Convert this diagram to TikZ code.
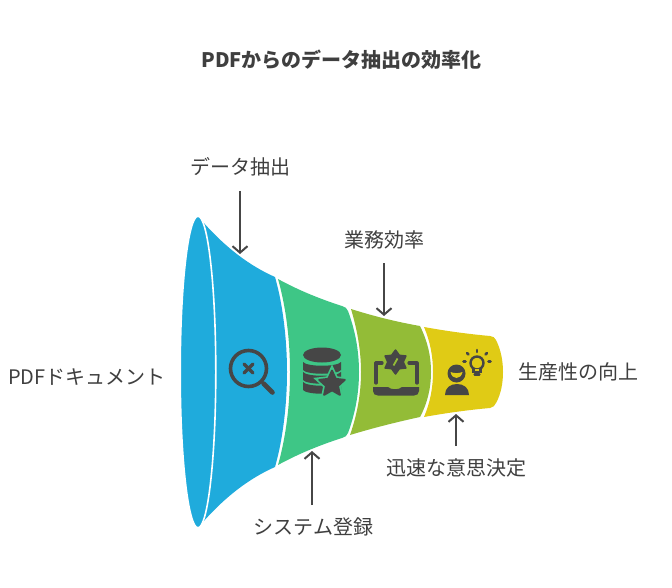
\documentclass[tikz,border=0pt]{standalone}
\usepackage{fontspec}
\setmainfont{Noto Sans CJK JP}
\usetikzlibrary{arrows.meta,shapes.geometric}
\definecolor{funnelblue}{HTML}{1FABDC}
\definecolor{funnelgreen}{HTML}{3EC686}
\definecolor{funnelolive}{HTML}{93BC37}
\definecolor{funnelyellow}{HTML}{E0CB15}
\definecolor{icongrey}{HTML}{464646}
\definecolor{labelgrey}{HTML}{3F3F3F}
\tikzset{
  label text/.style={text=labelgrey, font=\fontsize{20}{24}\selectfont, inner sep=0pt},
  pointer/.style={draw=icongrey, line width=2pt, -{Straight Barb[length=6.5pt,width=15pt,line width=2pt]}},
  icon line/.style={draw=icongrey, line width=3.6pt, line cap=round},
  icon fill/.style={fill=icongrey, draw=none},
}
\begin{document}
\begin{tikzpicture}[x=1pt,y=-1pt]
  \useasboundingbox (0,0) rectangle (672,588);

  % funnel
  \fill[funnelblue] (203,222) .. controls (226,248) and (250,266) .. (275,277)
    .. controls (283,305) and (287,340) .. (287,372) .. controls (287,404) and (283,439) .. (275,467)
    .. controls (250,478) and (226,496) .. (203,522) .. controls (212,470) and (212,420) .. (212,372)
    .. controls (212,324) and (212,274) .. (203,222) -- cycle;
  \fill[funnelgreen] (278,279) .. controls (298,290) and (320,299) .. (342,306)
    .. controls (345,307) and (347,308) .. (348,311)
    .. controls (355,330) and (359,350) .. (359,372) .. controls (359,394) and (355,414) .. (348,433)
    .. controls (347,436) and (345,437) .. (342,438)
    .. controls (320,445) and (298,454) .. (278,465) .. controls (286,437) and (290,404) .. (290,372)
    .. controls (290,340) and (286,307) .. (278,279) -- cycle;
  \fill[funnelolive] (351,309) .. controls (373,316) and (397,322) .. (420,326)
    .. controls (427,340) and (431,355) .. (431,372) .. controls (431,389) and (427,404) .. (420,417)
    .. controls (397,422) and (373,428) .. (350,435) .. controls (357,415) and (361,394) .. (361,372)
    .. controls (361,350) and (357,329) .. (351,309) -- cycle;
  \fill[funnelyellow] (424,327) .. controls (446,331) and (468,334) .. (490,336)
    .. controls (493,336) and (495,338) .. (496,340)
    .. controls (501,350) and (503,361) .. (503,372) .. controls (503,383) and (501,394) .. (496,403)
    .. controls (495,406) and (493,407) .. (490,408)
    .. controls (468,410) and (446,413) .. (424,417) .. controls (430,403) and (433,388) .. (433,372)
    .. controls (433,356) and (430,341) .. (424,327) -- cycle;
  \draw[white, fill=funnelblue, line width=1.6pt] (198,372) ellipse [x radius=17.8pt, y radius=155.8pt];

  % magnifier
  \draw[icon line] (248.5,368.5) circle (18pt);
  \draw[icon line, line width=4.6pt] (263.5,383.5) -- (272.5,392.5);
  \draw[icon line, line width=3.4pt] (244,364) -- (253,373);
  \draw[icon line, line width=3.4pt] (253,364) -- (244,373);

  % database with star
  \fill[icon fill] (322,355) ellipse [x radius=19pt, y radius=7.5pt];
  \foreach \layer in {0,1,2}
    \fill[icon fill] (303,{362+\layer*10}) .. controls (307,{367+\layer*10}) and (337,{367+\layer*10}) .. (341,{362+\layer*10})
      -- (341,{370+\layer*10}) .. controls (337,{375+\layer*10}) and (307,{375+\layer*10}) .. (303,{370+\layer*10}) -- cycle;
  \node (dbstar) [star, star points=5, star point ratio=2.1, minimum size=31pt, inner sep=0pt,
    fill=icongrey, draw=funnelgreen, line width=3.5pt] at (332,384) {};
  \node (dbstartop) [star, star points=5, star point ratio=2.1, minimum size=27pt, inner sep=0pt,
    fill=icongrey, draw=icongrey, line width=1.8pt, line join=round] at (332,384) {};

  % laptop with gear
  \draw[icon line, line width=3.2pt, line cap=round, line join=round] (376,383) -- (376,363) -- (382,363);
  \draw[icon line, line width=3.2pt, line cap=round, line join=round] (417,383) -- (417,363) -- (409,363);
  \fill[icon fill] (373,387) -- (388,387) .. controls (391,390) and (399,390) .. (402,387) -- (419,387)
    -- (419,391) .. controls (419,394) and (417,395.5) .. (414,395.5) -- (378,395.5)
    .. controls (375,395.5) and (373,394) .. (373,391) -- cycle;
  \node (gear) [star, star points=6, star point ratio=1.55, minimum size=24pt, inner sep=0pt,
    fill=icongrey, draw=icongrey, line width=1.5pt, line join=round] at (395.5,362) {};
  \draw[funnelolive, line width=1.8pt] (393.5,365.5) -- (397.5,358.5);

  % person with bulb
  \fill[icon fill] (445,395) .. controls (445,388) and (450,384) .. (457,384)
    .. controls (464,384) and (469,388) .. (469,395) -- cycle;
  \fill[icon fill] (456.5,373.5) circle (9pt);
  \fill[funnelyellow] (450.5,372) .. controls (452,380) and (461,380) .. (462.5,372)
    .. controls (459,373.5) and (454,373.5) .. (450.5,372) -- cycle;
  \draw[icongrey, line width=2.4pt] (477,363) circle (6.5pt);
  \draw[funnelyellow, line width=2.4pt] (474,370.5) -- (480,370.5);
  \draw[icongrey, line width=2.2pt, line cap=round] (473.5,369) -- (473.5,372) -- (480.5,372) -- (480.5,369);
  \draw[icongrey, line width=2.2pt, line cap=round] (474.5,374.5) -- (479.5,374.5);
  \draw[icongrey, line width=2.6pt, line cap=round] (477,350) -- (477,352);
  \draw[icongrey, line width=2.6pt, line cap=round] (467,353) -- (468.5,354.5);
  \draw[icongrey, line width=2.6pt, line cap=round] (487,353) -- (485.5,354.5);
  \draw[icongrey, line width=2.6pt, line cap=round] (463.5,361.5) -- (465.5,361.5);
  \draw[icongrey, line width=2.6pt, line cap=round] (488.5,361.5) -- (490.5,361.5);

  % labels
  \node (title) [label text, font=\fontsize{20}{24}\selectfont\bfseries] at (341.5,60) {PDFからのデータ抽出の効率化};
  \node (extract) [label text] at (240,167) {データ抽出};
  \node (business) [label text] at (384,240) {業務効率};
  \node (source) [label text] at (87,377.5) {PDFドキュメント};
  \node (result) [label text] at (578,372) {生産性の向上};
  \node (decision) [label text] at (456,468) {迅速な意思決定};
  \node (register) [label text] at (313.5,527) {システム登録};

  % arrows
  \coordinate (extracttip) at (240,254);
  \coordinate (businesstip) at (384,316);
  \coordinate (decisiontip) at (456,414);
  \coordinate (registertip) at (312,451);
  \draw[pointer] (extract.south |- 0,191) -- (extracttip);
  \draw[pointer] (business.south |- 0,263) -- (businesstip);
  \draw[pointer] (decision.north |- 0,446) -- (decisiontip);
  \draw[pointer] (312,505) -- (registertip);
\end{tikzpicture}
\end{document}
